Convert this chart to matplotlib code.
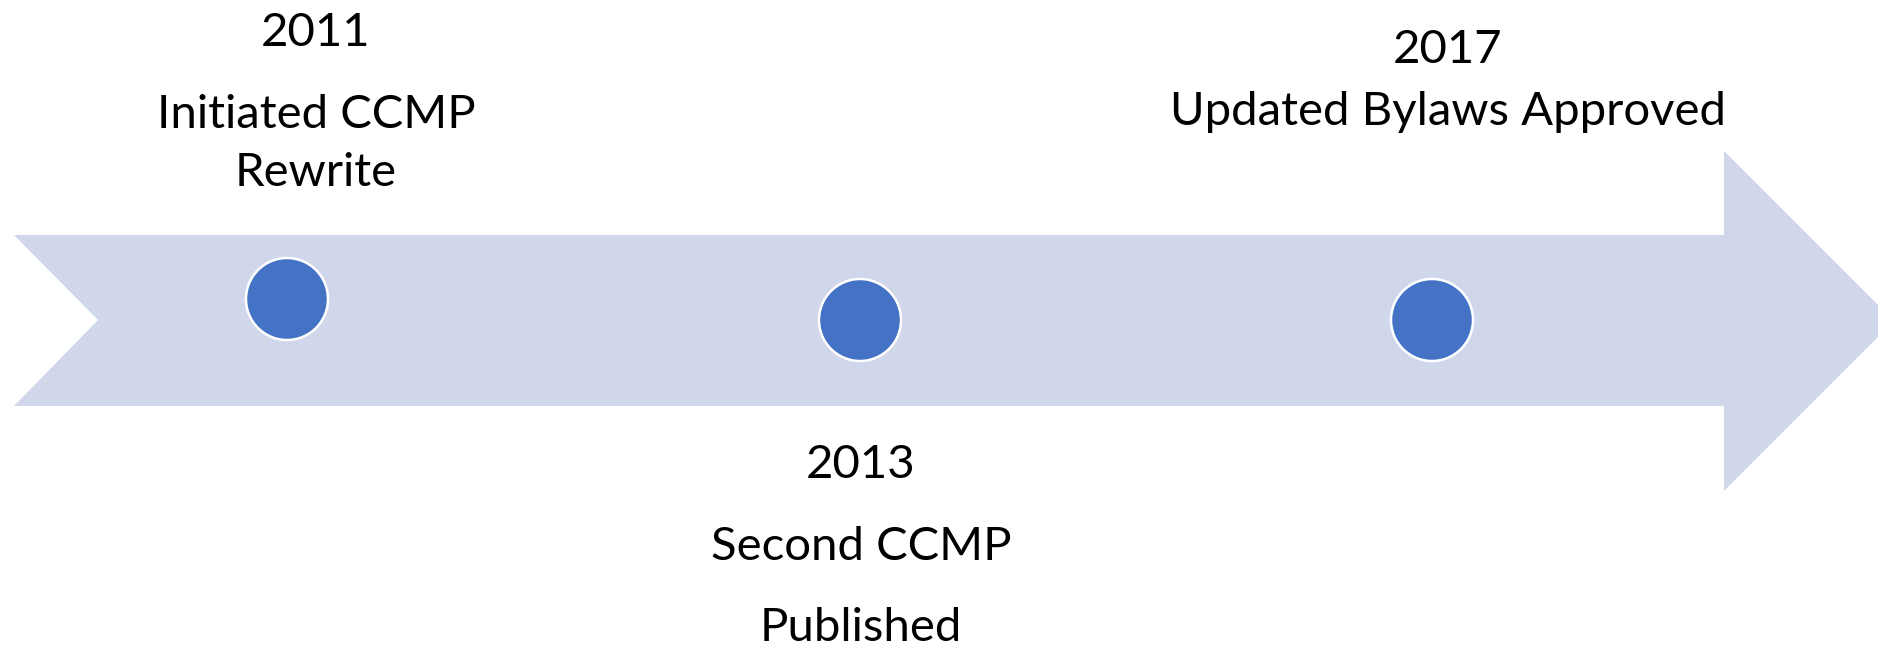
import matplotlib
matplotlib.use("Agg")
import matplotlib.pyplot as plt
from matplotlib.patches import Polygon, Circle

# timeline data
years = ["2011", "2013", "2017"]
events = [["Initiated CCMP", "Rewrite"], ["Second CCMP", "Published"], ["Updated Bylaws Approved"]]

# layout (pixel space, y downwards, text y = baseline)
W, H = 1878, 648
dot_x = [287, 860, 1432]
dot_y = [299, 320, 320]
text_x = [316, 861, 1448]
year_base = [46, 478, 63]
line_base = [[128, 186], [560, 641], [125]]

BAND = "#D0D7EB"
DOT = "#4472C4"

plt.rcParams["font.family"] = ["Lato", "DejaVu Sans"]
fig = plt.figure(figsize=(W / 100, H / 100), dpi=100)
ax = fig.add_axes([0, 0, 1, 1])
ax.set_xlim(0, W); ax.set_ylim(H, 0); ax.axis("off")

# chevron-tailed arrow band
arrow = [(14, 235), (1724, 235), (1724, 151), (1894, 321), (1724, 491),
         (1724, 406), (14, 406), (98, 320)]
ax.add_patch(Polygon(arrow, closed=True, facecolor=BAND, edgecolor="none"))

for x, y in zip(dot_x, dot_y):
    ax.add_patch(Circle((x, y), 41, facecolor=DOT, edgecolor="white", lw=1.8, zorder=3))

for x, yb, yr, lines, bases in zip(text_x, year_base, years, events, line_base):
    ax.text(x, yb, yr, ha="center", va="baseline", fontsize=34, color="black")
    for t, b in zip(lines, bases):
        ax.text(x, b, t, ha="center", va="baseline", fontsize=34, color="black")

fig.savefig("out.png", dpi=100)
